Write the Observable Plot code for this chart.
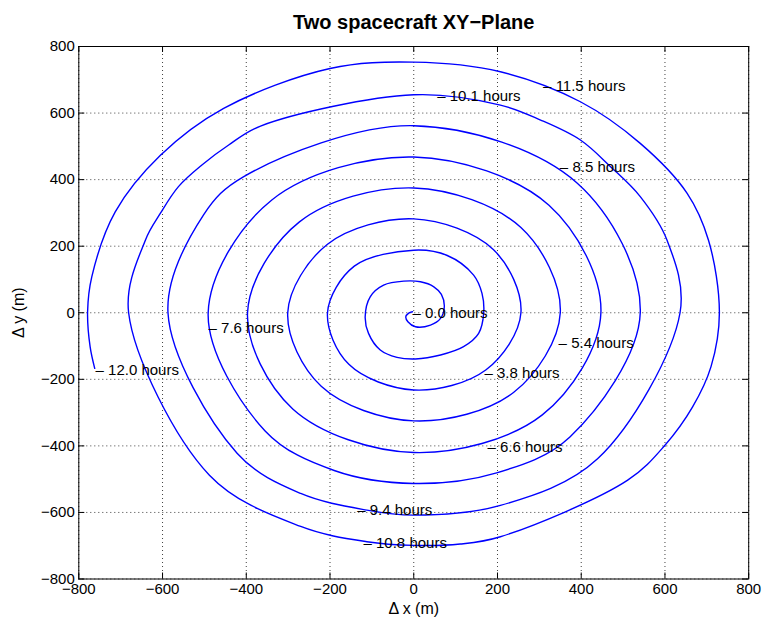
<!DOCTYPE html>
<html>
<head>
<meta charset="utf-8">
<script src="https://cdn.jsdelivr.net/npm/d3@7"></script>
<script src="https://cdn.jsdelivr.net/npm/@observablehq/plot@0.6"></script>
<style>
  html, body { margin: 0; padding: 0; background: #fff; }
  svg { display: block; }
</style>
</head>
<body>
<div id="chart"></div>
<script>
// Spiral trajectory (Δx, Δy in metres), in time order
const pathX = [-3, -12, -19, -14, 4, 40, 64, 73, 66, 48, 16, -24, -72, -104, -116, -108, -80, -40, 4, 64, 119, 155, 167, 163, 143, 80,
  0, -142, -206, -155, 0, 172, 256, 190, 0, -206, -301, -221, 0, 239, 350, 256, 0, -273, -397, -289, 0, 307, 447, 323,
  0, -339, -491, -355, -190, 0, 198, 373, 541,
  390, 0, -406, -502, -587, -422, -270, -112, 0, 207, 439, 636,
  605, 541, 470, 398, 303, 207, 0, -366, -442, -506, -562, -605, -641, -681,
  -488, -270, -112, 0, 111, 207, 511, 600, 666, 710, 730,
  704, 653, 541, 398, 207, 0, -200, -454, -605, -713, -769, -779, -773, -762];
const pathY = [3, -1, -12, -27, -42, -37, -17, 18, 55, 78, 93, 95, 83, 48, -12, -62, -112, -134, -139, -127, -102, -62, -2, 58, 113, 172,
  188, 140, 0, -155, -232, -172, 0, 190, 282, 206, 0, -221, -325, -239, 0, 256, 375, 273, 0, -289, -420, -307, 0, 323,
  468, 339, 0, -355, -474, -513, -481, -373, 0,
  390, 562, 409, 294, 0, -422, -543, -593, -608, -579, -439, 0,
  218, 349, 439, 519, 579, 624, 655, 561, 504, 444, 379, 299, 218, 0,
  -488, -642, -688, -699, -695, -673, -503, -398, -283, -162, 0,
  218, 359, 509, 634, 724, 753, 734, 614, 473, 303, 108, 3, -102, -167];

// Time labels and where they sit
const labelHours = ["0.0", "3.8", "5.4", "6.6", "7.6", "8.5", "9.4", "10.1", "10.8", "11.5", "12.0"];
const labelX = [-3, 169, 346, 176, -490, 349, -135, 56, -120, 309, -760];
const labelY = [-1, -181, -90, -404, -45, 436, -593, 651, -693, 681, -172];

const xTicks = [-800, -600, -400, -200, 0, 200, 400, 600, 800];
const yTicks = [-800, -600, -400, -200, 0, 200, 400, 600, 800];

const W = 769, H = 626;
const mL = 78.3, mR = 20.8, mT = 46, mB = 47.5;
const tickPx = 6;
const tx = tickPx * 1600 / (W - mL - mR);
const ty = tickPx * 1600 / (H - mT - mB);

const path = pathX.map((x, i) => ({x, y: pathY[i]}));
const labels = labelHours.map((h, i) => ({t: "\u2013 " + h + " hours", x: labelX[i], y: labelY[i]}));
const font = "'Liberation Sans', Arial, Helvetica, sans-serif";

const chart = Plot.plot({
  width: W, height: H,
  marginLeft: mL, marginRight: mR, marginTop: mT, marginBottom: mB,
  style: {fontFamily: font, fontSize: "15px", color: "#000", background: "#fff"},
  x: {domain: [-800, 800], label: null},
  y: {domain: [-800, 800], label: null},
  marks: [
    Plot.gridX(xTicks, {stroke: "#000", strokeOpacity: 0.75, strokeDasharray: "1,3"}),
    Plot.gridY(yTicks, {stroke: "#000", strokeOpacity: 0.75, strokeDasharray: "1,3"}),
    Plot.line(path, {x: "x", y: "y", stroke: "#0000ff", strokeWidth: 1.4, curve: "catmull-rom"}),
    Plot.text(labels, {x: "x", y: "y", text: "t", textAnchor: "start", lineAnchor: "middle", fontSize: 15, fill: "#000"}),
    Plot.ruleX(xTicks, {x: d => d, y1: -800, y2: -800 + ty, stroke: "#000"}),
    Plot.ruleX(xTicks, {x: d => d, y1: 800, y2: 800 - ty, stroke: "#000"}),
    Plot.ruleY(yTicks, {y: d => d, x1: -800, x2: -800 + tx, stroke: "#000"}),
    Plot.ruleY(yTicks, {y: d => d, x1: 800, x2: 800 - tx, stroke: "#000"}),
    Plot.frame({stroke: "#000", strokeWidth: 1}),
    Plot.axisX(xTicks, {anchor: "bottom", tickSize: 0, tickPadding: 4, fontSize: 15, label: null}),
    Plot.axisY(yTicks, {anchor: "left", tickSize: 0, tickPadding: 4, fontSize: 15, label: null}),
    Plot.text(["\u0394 x (m)"], {text: d => d, frameAnchor: "bottom", dy: 30, textAnchor: "middle", lineAnchor: "middle", fontSize: 16}),
    Plot.text(["\u0394 y (m)"], {text: d => d, frameAnchor: "left", dx: -60, rotate: -90, textAnchor: "middle", lineAnchor: "middle", fontSize: 16}),
    Plot.text(["Two spacecraft XY\u2212Plane"], {text: d => d, frameAnchor: "top", dy: -24, textAnchor: "middle", lineAnchor: "middle", fontSize: 20, fontWeight: "bold"})
  ]
});
document.getElementById("chart").appendChild(chart);
</script>
</body>
</html>
